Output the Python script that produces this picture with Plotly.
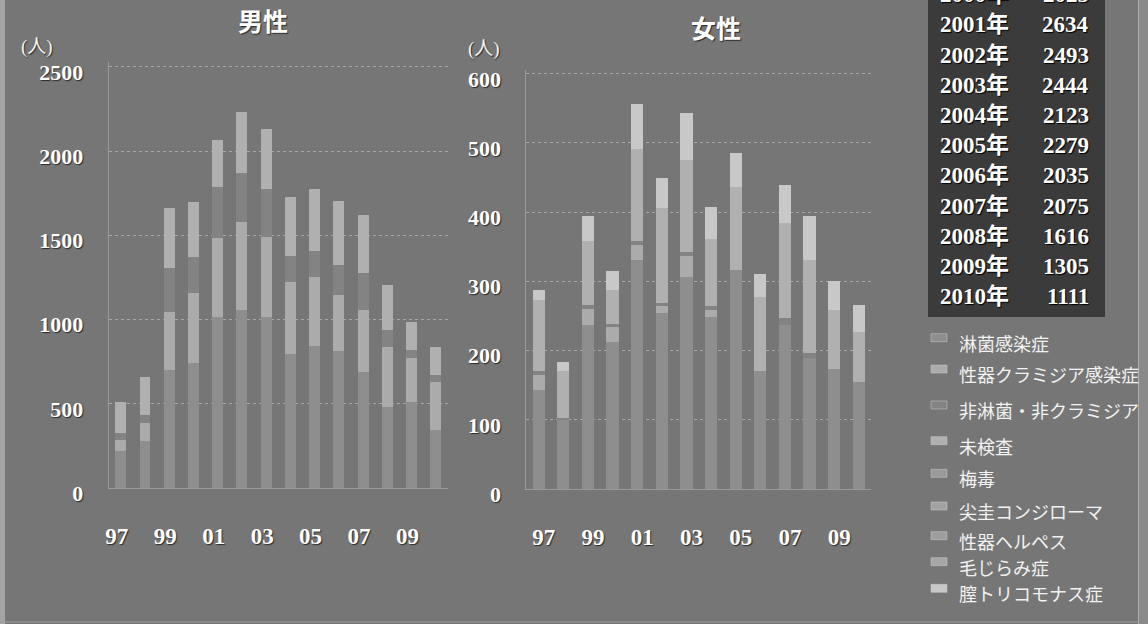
import plotly.graph_objects as go

# ---- data -------------------------------------------------------------
years = [1997, 1998, 1999, 2000, 2001, 2002, 2003, 2004, 2005, 2006, 2007, 2008, 2009, 2010]
tick_years = [1997, 1999, 2001, 2003, 2005, 2007, 2009]
tick_text = ["97", "99", "01", "03", "05", "07", "09"]

categories = ["淋菌感染症", "性器クラミジア感染症", "非淋菌・非クラミジア", "未検査",
              "梅毒", "尖圭コンジローマ", "性器ヘルペス", "毛じらみ症", "膣トリコモナス症"]

# 男性 (persons)
male_gonorrhea = [221, 279, 701, 740, 1014, 1057, 1017, 796, 843, 815, 691, 483, 512, 344]
male_chlamydia = [64, 105, 346, 416, 469, 524, 475, 429, 412, 331, 366, 352, 258, 287]
male_ngnc = [43, 49, 258, 218, 306, 288, 282, 153, 154, 178, 218, 103, 49, 40]
male_untested = [184, 228, 356, 326, 278, 366, 356, 352, 365, 382, 346, 267, 169, 164]
male_syphilis = [0] * 14
male_condyloma = [0] * 14
male_herpes = [0] * 14
male_lice = [0] * 14
male_trich = [0] * 14

# 女性 (persons)
female_gonorrhea = [143, 100, 237, 213, 331, 255, 307, 249, 316, 170, 237, 190, 173, 155]
female_chlamydia = [22, 0, 23, 21, 22, 9, 30, 10, 0, 0, 0, 0, 0, 0]
female_ngnc = [5, 3, 6, 5, 5, 5, 5, 5, 0, 0, 10, 6, 0, 0]
female_untested = [103, 67, 93, 48, 133, 137, 133, 97, 121, 108, 137, 135, 86, 72]
female_syphilis = [0] * 14
female_condyloma = [0] * 14
female_herpes = [0] * 14
female_lice = [0] * 14
female_trich = [15, 13, 35, 28, 66, 44, 68, 46, 48, 32, 55, 63, 42, 39]

# yearly totals table
table_years = ["2000年", "2001年", "2002年", "2003年", "2004年", "2005年",
               "2006年", "2007年", "2008年", "2009年", "2010年"]
table_totals = [2025, 2634, 2493, 2444, 2123, 2279, 2035, 2075, 1616, 1305, 1111]

male_series = [male_gonorrhea, male_chlamydia, male_ngnc, male_untested, male_syphilis,
               male_condyloma, male_herpes, male_lice, male_trich]
female_series = [female_gonorrhea, female_chlamydia, female_ngnc, female_untested,
                 female_syphilis, female_condyloma, female_herpes, female_lice, female_trich]

# ---- styling ----------------------------------------------------------
W, H = 1148, 624
BG = "#767676"
colors = ["#8e8e8e", "#ababab", "#838383", "#b0b0b0", "#9a9a9a",
          "#a2a2a2", "#9e9e9e", "#a6a6a6", "#c8c8c8"]
SERIF = "Liberation Serif, Noto Sans CJK JP, serif"
GOTHIC = "Noto Sans CJK JP, sans-serif"
SHADOW = "1px 1px 1px #2a2a2a"

# pixel scale of each value axis (px per person)
MALE_PX = 0.1684
FEMALE_PX = 0.692
MALE_TOP, FEMALE_TOP = 2530, 606


def px_x(x):
    return x / W


def px_y(y):
    return 1 - y / H


fig = go.Figure()

for i, name in enumerate(categories):
    fig.add_trace(go.Bar(
        x=years, y=male_series[i], name=name, width=0.45,
        marker=dict(color=colors[i], line=dict(width=0)),
        xaxis="x", yaxis="y", showlegend=False))
    fig.add_trace(go.Bar(
        x=years, y=female_series[i], name=name, width=0.5,
        marker=dict(color=colors[i], line=dict(width=0)),
        xaxis="x2", yaxis="y2", showlegend=False))

tick_font = dict(family=SERIF, size=23, color="white", weight="bold", shadow=SHADOW)
ytick_font = dict(family=SERIF, size=22, color="white", weight="bold", shadow=SHADOW)
grid_col = "rgba(215,215,215,0.5)"

xcommon = dict(range=[1996.5, 2010.5], tickmode="array", tickvals=tick_years,
               ticktext=tick_text, tickfont=tick_font, ticks="", showgrid=False,
               zeroline=False, showline=True, linecolor="rgba(200,200,200,0.45)",
               linewidth=1, ticklabelstandoff=27, automargin=False)
ycommon = dict(tickfont=ytick_font, ticks="", showgrid=True, gridcolor=grid_col,
               griddash="dot", gridwidth=1, zeroline=False, showline=True,
               linecolor="rgba(200,200,200,0.45)", linewidth=1,
               ticklabelstandoff=20, ticklabelshift=5, automargin=False)

fig.update_layout(
    template="none",
    width=W, height=H, barmode="stack",
    paper_bgcolor=BG, plot_bgcolor="rgba(0,0,0,0)",
    margin=dict(l=0, r=0, t=0, b=0, pad=0, autoexpand=False),
    showlegend=False,
    xaxis=dict(domain=[px_x(108.6), px_x(447.9)], anchor="y", ticklabelshift=-4, **xcommon),
    yaxis=dict(domain=[px_y(488), px_y(488 - MALE_TOP * MALE_PX)], anchor="x",
               range=[0, MALE_TOP], tickvals=[0, 500, 1000, 1500, 2000, 2500], **ycommon),
    xaxis2=dict(domain=[px_x(526.4), px_x(871.1)], anchor="y2", ticklabelshift=5, **xcommon),
    yaxis2=dict(domain=[px_y(489), px_y(489 - FEMALE_TOP * FEMALE_PX)], anchor="x2",
                range=[0, FEMALE_TOP], tickvals=[0, 100, 200, 300, 400, 500, 600], **ycommon),
)

shapes = []
annotations = []

# frame edges
shapes.append(dict(type="rect", xref="paper", yref="paper", x0=0, x1=px_x(5), y0=0, y1=1,
                   fillcolor="#a4a4a4", line=dict(width=0), layer="below"))
shapes.append(dict(type="rect", xref="paper", yref="paper", x0=px_x(1139), x1=1, y0=0, y1=1,
                   fillcolor="#8a8a8a", line=dict(width=0), layer="below"))
shapes.append(dict(type="line", xref="paper", yref="paper", x0=px_x(1138.5), x1=px_x(1138.5),
                   y0=0, y1=1, line=dict(color="#b0b0b0", width=1), layer="below"))
shapes.append(dict(type="line", xref="paper", yref="paper", x0=0, x1=px_x(1139),
                   y0=px_y(622), y1=px_y(622), line=dict(color="#9c9c9c", width=1), layer="below"))

# titles and unit labels
annotations.append(dict(text="<b>男性</b>", x=px_x(263), y=px_y(20), xref="paper", yref="paper",
                        xanchor="center", yanchor="middle", showarrow=False,
                        font=dict(family=GOTHIC, size=25, color="white", shadow=SHADOW)))
annotations.append(dict(text="<b>女性</b>", x=px_x(716), y=px_y(27), xref="paper", yref="paper",
                        xanchor="center", yanchor="middle", showarrow=False,
                        font=dict(family=GOTHIC, size=25, color="white", shadow=SHADOW)))
for ux, uy in [(37, 47), (484, 49)]:
    annotations.append(dict(text="(人)", x=px_x(ux), y=px_y(uy), xref="paper", yref="paper",
                            xanchor="center", yanchor="middle", showarrow=False,
                            font=dict(family=SERIF, size=19, color="#f4f4f4", shadow=SHADOW)))

# totals table
shapes.append(dict(type="rect", xref="paper", yref="paper", x0=px_x(928), x1=px_x(1105),
                   y0=px_y(317), y1=1.02, fillcolor="#3b3b3b", line=dict(width=0)))
row_step = 30.17
for k, (yr, tot) in enumerate(zip(table_years, table_totals)):
    cy = 25 + (k - 1) * row_step
    annotations.append(dict(text=yr, x=px_x(938), y=px_y(cy), xref="paper", yref="paper",
                            xanchor="left", yanchor="middle", showarrow=False,
                            font=dict(family=SERIF, size=23, color="white", weight="bold",
                                      shadow="1px 1px 1px #000")))
    annotations.append(dict(text=str(tot), x=px_x(1091), y=px_y(cy), xref="paper", yref="paper",
                            xanchor="right", yanchor="middle", showarrow=False,
                            font=dict(family=SERIF, size=23, color="white", weight="bold",
                                      shadow="1px 1px 1px #000")))

# legend
legend_y = [342.7, 374, 410, 445.7, 478.3, 511, 540.7, 566.7, 593.3]
for name, col, ly in zip(categories, colors, legend_y):
    shapes.append(dict(type="rect", xref="paper", yref="paper", x0=px_x(931), x1=px_x(947),
                       y0=px_y(ly - 1), y1=px_y(ly - 9), fillcolor=col,
                       line=dict(color="#cfcfcf", width=0.5)))
    annotations.append(dict(text=name, x=px_x(957), y=px_y(ly), xref="paper", yref="paper",
                            xanchor="left", yanchor="middle", showarrow=False,
                            font=dict(family=GOTHIC, size=18, color="#f2f2f2")))

fig.update_layout(shapes=shapes, annotations=annotations)
fig.write_html("out.html")
